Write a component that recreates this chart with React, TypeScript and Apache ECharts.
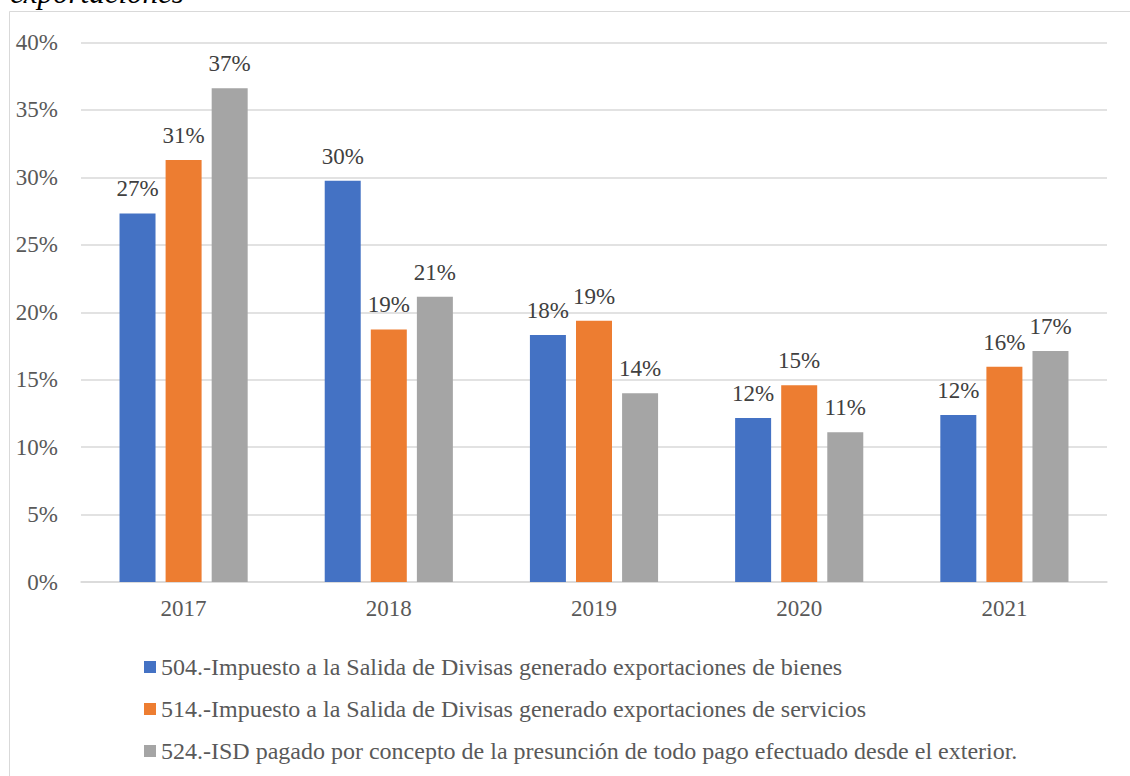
import React, { useEffect, useRef } from "react";
import * as echarts from "echarts";

const categories = ["2017", "2018", "2019", "2020", "2021"];
const seriesNames = [
  "504.-Impuesto a la Salida de Divisas generado exportaciones de bienes",
  "514.-Impuesto a la Salida de Divisas generado exportaciones de servicios",
  "524.-ISD pagado por concepto de la presunción de todo pago efectuado desde el exterior.",
];
const bienes = [27.33, 29.75, 18.31, 12.16, 12.38];
const servicios = [31.28, 18.73, 19.37, 14.58, 15.96];
const presuncion = [36.6, 21.15, 13.99, 11.1, 17.12];
const colors = ["#4472C4", "#ED7D31", "#A5A5A5"];
const titleText = "exportaciones";

const FONT = "Liberation Serif";

export default function App() {
  const ref = useRef<HTMLDivElement>(null);
  useEffect(() => {
    if (!ref.current) return;
    const chart = echarts.init(ref.current, undefined, { renderer: "svg" });
    const data = [bienes, servicios, presuncion];
    chart.setOption({
      animation: false,
      backgroundColor: "#ffffff",
      textStyle: { fontFamily: FONT },
      graphic: [
        {
          type: "rect",
          silent: true,
          shape: { x: 9.5, y: 11.5, width: 1140, height: 800 },
          style: { fill: "none", stroke: "#d9d9d9", lineWidth: 1 },
          z: -10,
        },
        {
          type: "text",
          left: 10,
          top: -23,
          style: {
            text: titleText,
            font: "italic 31px " + FONT,
            fill: "#000000",
          },
        },
      ],
      grid: { left: 81, right: 23, top: 42.5, bottom: 194, containLabel: false },
      legend: {
        orient: "vertical",
        left: 144,
        top: 655,
        padding: 0,
        itemWidth: 12,
        itemHeight: 12,
        itemGap: 18,
        icon: "rect",
        textStyle: { fontFamily: FONT, fontSize: 24, color: "#595959", lineHeight: 24 },
        data: seriesNames,
      },
      xAxis: {
        type: "category",
        data: categories,
        axisLine: { show: true, lineStyle: { color: "#d9d9d9", width: 1.5 } },
        axisTick: { show: false },
        axisLabel: { fontFamily: FONT, fontSize: 23, color: "#595959", margin: 15 },
      },
      yAxis: {
        type: "value",
        min: 0,
        max: 40,
        interval: 5,
        axisLine: { show: false },
        axisTick: { show: false },
        splitLine: { lineStyle: { color: "#d9d9d9", width: 1.5 } },
        axisLabel: {
          fontFamily: FONT,
          fontSize: 23,
          color: "#595959",
          margin: 23,
          formatter: (v: number) => v + "%",
        },
      },
      series: seriesNames.map((name, i) => ({
        name,
        type: "bar",
        data: data[i],
        barWidth: 36,
        barGap: "28%",
        itemStyle: { color: colors[i] },
        label: {
          show: true,
          position: "top",
          distance: 13,
          fontFamily: FONT,
          fontSize: 23,
          color: "#404040",
          formatter: (p: any) => Math.round(p.value) + "%",
        },
      })),
    });
    return () => chart.dispose();
  }, []);
  return (
    <div
      ref={ref}
      style={{ position: "absolute", left: 0, top: 0, width: 1130, height: 776 }}
    />
  );
}
